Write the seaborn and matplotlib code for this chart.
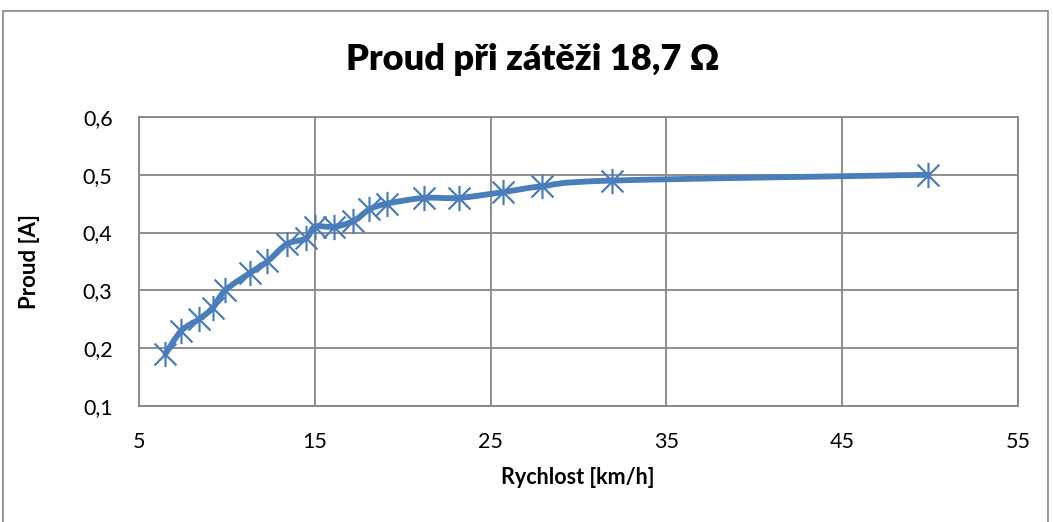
import numpy as np
import pandas as pd
import seaborn as sns
import matplotlib
matplotlib.use("Agg")
import matplotlib.pyplot as plt
from matplotlib.path import Path
from matplotlib.patches import PathPatch, Rectangle
from matplotlib.ticker import FuncFormatter

# hodnoty
rychlost = [6.5, 7.4, 8.4, 9.2, 9.9, 11.3, 12.3, 13.4, 14.5, 15.0, 16.1, 17.2,
            18.1, 19.1, 21.2, 23.2, 25.7, 27.9, 31.9, 49.9]
proud = [0.19, 0.23, 0.25, 0.27, 0.30, 0.33, 0.35, 0.38, 0.39, 0.41, 0.41, 0.42,
         0.44, 0.45, 0.46, 0.46, 0.47, 0.48, 0.49, 0.50]
x_ticks = [5, 15, 25, 35, 45, 55]
y_ticks = [0.1, 0.2, 0.3, 0.4, 0.5, 0.6]

modra = "#4A7EBB"
seda = "#868686"


def hladka_cesta(xs, ys):
    """Bezierova krivka pres body (jako vyhlazena cara v Excelu)."""
    pts = np.column_stack([xs, ys])
    n = len(pts)
    verts = [pts[0]]
    codes = [Path.MOVETO]
    for i in range(n - 1):
        p0 = pts[max(i - 1, 0)]
        p1 = pts[i]
        p2 = pts[i + 1]
        p3 = pts[min(i + 2, n - 1)]
        c1 = p1 + (p2 - p0) / 6.0
        c2 = p2 - (p3 - p1) / 6.0
        verts += [c1, c2, p2]
        codes += [Path.CURVE4] * 3
    return Path(verts, codes)


sns.set_theme(style="white")
plt.rcParams['font.family'] = ['Lato', 'DejaVu Sans']
plt.rcParams['text.color'] = 'black'
plt.rcParams['axes.labelcolor'] = 'black'

df = pd.DataFrame({"Rychlost": rychlost, "Proud": proud})

fig = plt.figure(figsize=(10.53, 5.22), dpi=100)
ax = fig.add_axes([0.132, 0.2222, 0.8348, 0.5537])

hvezda = Path([(-1, -1), (1, 1), (-1, 1), (1, -1), (0, -1.15), (0, 1.15)],
              [Path.MOVETO, Path.LINETO, Path.MOVETO, Path.LINETO, Path.MOVETO, Path.LINETO])

ax.add_patch(PathPatch(hladka_cesta(rychlost, proud), facecolor="none",
                       edgecolor=modra, lw=4.2, capstyle="round", joinstyle="round", zorder=3))
sns.scatterplot(data=df, x="Rychlost", y="Proud", marker=hvezda, s=330,
                color=modra, edgecolor=modra, linewidth=1.6, ax=ax, zorder=4)

ax.set_xlim(5, 55)
ax.set_ylim(0.1, 0.6)
ax.set_xticks(x_ticks)
ax.set_yticks(y_ticks)
ax.yaxis.set_major_formatter(FuncFormatter(lambda v, p: f"{v:.1f}".replace(".", ",")))
ax.grid(True, color=seda, lw=1.3)
ax.set_axisbelow(True)
for s in ax.spines.values():
    s.set_color(seda)
    s.set_linewidth(1.3)
ax.tick_params(axis="both", length=0, labelsize=15.5, colors="black")
ax.tick_params(axis="x", pad=19)
ax.tick_params(axis="y", pad=19)

ax.set_xlabel("Rychlost [km/h]", fontsize=15.5, fontweight="bold", color="black")
ax.set_ylabel("Proud [A]", fontsize=16, fontweight="bold", color="black")
ax.xaxis.set_label_coords(0.499, -0.249)
ax.xaxis.label.set_va("center")
ax.yaxis.set_label_coords(-0.124, 0.5)
ax.yaxis.label.set_va("center")

fig.text(0.506, 0.866, "Proud při zátěži 18,7 Ω", fontsize=26, fontweight="heavy",
         color="black", ha="center", va="baseline")

fig.patches.append(Rectangle((0.003, -0.1), 0.992, 1.079, transform=fig.transFigure,
                             fill=False, edgecolor=seda, lw=1.2))

fig.savefig("out.png", dpi=100)
